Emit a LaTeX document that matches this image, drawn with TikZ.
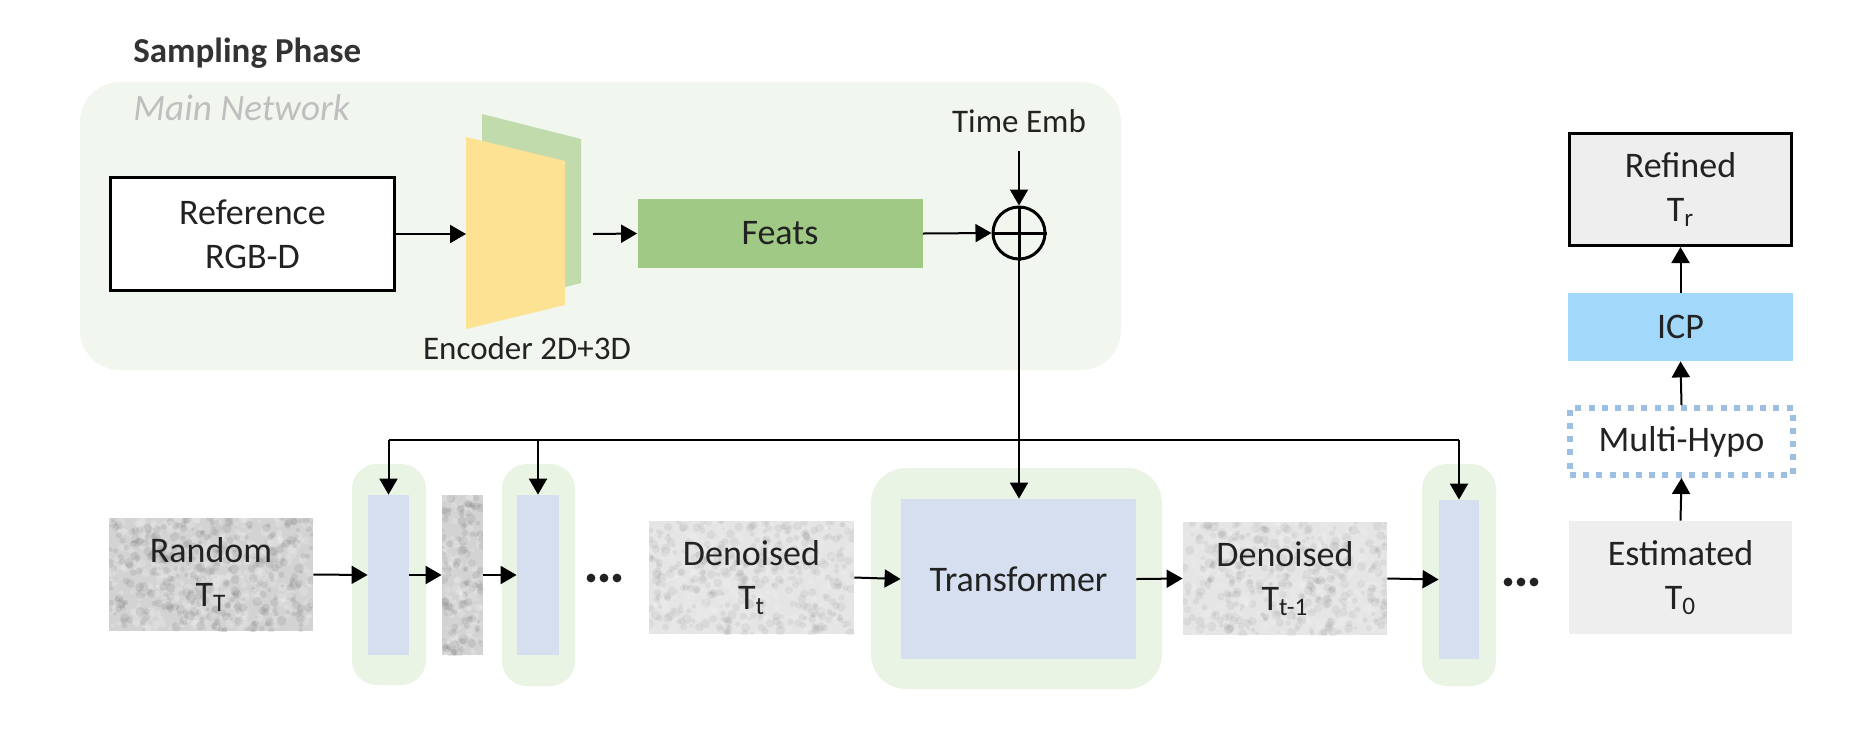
\documentclass[tikz,border=0pt]{standalone}
\usepackage{fontspec}
\setmainfont{Carlito}
\usetikzlibrary{arrows.meta,calc}
\definecolor{panelc}{HTML}{F1F7EE}
\definecolor{blkg}{HTML}{EAF4E4}
\definecolor{innerb}{HTML}{D5DFEF}
\definecolor{featsc}{HTML}{A0C986}
\definecolor{yell}{HTML}{FDE294}
\definecolor{encg}{HTML}{C1DBAC}
\definecolor{icpc}{HTML}{A2D8FA}
\definecolor{grayc}{HTML}{EEEEEE}
\definecolor{mhc}{HTML}{9DBFE2}
\definecolor{txtc}{HTML}{222222}
\definecolor{mainnet}{HTML}{BFBFBF}
\definecolor{sampc}{HTML}{333333}
\definecolor{noiseA}{HTML}{D3D3D3}
\definecolor{noiseB}{HTML}{E5E5E5}
\pgfmathsetseed{7}
\begin{document}
\begin{tikzpicture}[x=0.5pt,y=-0.5pt,
  txt/.style={text=txtc, font=\fontsize{18pt}{22pt}\selectfont, align=center, inner sep=0pt},
  small/.style={text=txtc, font=\fontsize{16.5pt}{20pt}\selectfont, inner sep=0pt},
  arr/.style={line width=1pt, -{Triangle[length=8pt,width=9pt]}},
  thickbox/.style={txt, draw=black, line width=1.5pt},
  greenblk/.style={fill=blkg, rounded corners=12.5pt, inner sep=0pt},
  innerblk/.style={fill=innerb, inner sep=0pt},
  noisy/.style n args={3}{txt, fill=#1, path picture={
    \foreach \k in {1,...,#2}{
      \pgfmathsetmacro\u{rnd}
      \pgfmathsetmacro\v{rnd}
      \pgfmathsetmacro\r{0.9+1.6*rnd}
      \pgfmathtruncatemacro\c{rnd>0.5 ? 55 : 0}
      \fill[black!\c!white, opacity=#3] let \p1=(path picture bounding box.south west), \p2=(path picture bounding box.north east) in ({\x1+\u*(\x2-\x1)},{\y1+\v*(\y2-\y1)}) circle[radius=\r pt];
    }}}
]
\useasboundingbox (0,0) rectangle (1854,741);
\fill[white] (0,0) rectangle (1854,741);

% titles
\node[anchor=base west, inner sep=0pt, text=sampc, font=\fontsize{17.5pt}{20pt}\selectfont\bfseries] (title) at (133,62) {Sampling Phase};

% main network panel
\fill[panelc, rounded corners=20pt] (80,82) rectangle (1121,370);
\node[anchor=base west, inner sep=0pt, text=mainnet, font=\fontsize{18.6pt}{22pt}\selectfont\itshape] (mainnet) at (133,120) {Main Network};

\node[thickbox, fill=white, minimum width=142pt, minimum height=56.5pt] (ref) at (252.5,234) {Reference\\RGB-D};

% encoder
\fill[encg] (482,114) -- (581,139) -- (581,283) -- (482,308) -- cycle;
\fill[yell] (466,137) -- (565,161) -- (565,305) -- (466,329) -- cycle;
\coordinate (encin) at (466,234);
\coordinate (encout) at (593,234);
\node[small, anchor=base] (enclab) at (527,359) {Encoder 2D+3D};

\node[txt, fill=featsc, minimum width=142.5pt, minimum height=34.5pt] (feats) at (780,233.5) {Feats};

\node[circle, draw=black, line width=1.5pt, minimum size=26pt, inner sep=0pt] (oplus) at (1019,233) {};
\draw[line width=1.5pt] (oplus.north) -- (oplus.south) (oplus.west) -- (oplus.east);
\node[small, anchor=base] (temb) at (1019,132) {Time Emb};
\coordinate (tembs) at (1019,151);

\draw[arr] (ref.east) -- (encin);
\draw[arr] (encout) -- (feats.west);
\draw[arr] (feats.east) -- (oplus.west);
\draw[arr] (tembs) -- (oplus.north);

% denoising chain
\node[noisy={noiseA}{700}{0.16}, minimum width=102pt, minimum height=56.5pt] (random) at (211,574.5) {Random\\T\textsubscript{T}};
\node[greenblk, minimum width=37pt, minimum height=110.5pt] (b1g) at (389,574.5) {};
\node[innerblk, minimum width=20.5pt, minimum height=80pt] (b1) at (388.5,575) {};
\node[noisy={noiseA}{220}{0.16}, minimum width=20.5pt, minimum height=80pt] (strip) at (462.5,575) {};
\node[greenblk, minimum width=36.5pt, minimum height=111pt] (b2g) at (538.5,575) {};
\node[innerblk, minimum width=21pt, minimum height=80pt] (b2) at (538,575) {};
\node[noisy={noiseB}{700}{0.1}, minimum width=102.5pt, minimum height=56.5pt] (dent) at (751.5,577.5) {Denoised\\T\textsubscript{t}};
\node[greenblk, rounded corners=17.5pt, minimum width=145.5pt, minimum height=110.5pt] (tg) at (1016.5,578.5) {};
\node[innerblk, txt, minimum width=117.5pt, minimum height=80pt] (trans) at (1018.5,579) {Transformer};
\node[noisy={noiseB}{700}{0.1}, minimum width=102pt, minimum height=56.5pt] (dent1) at (1285,578.5) {Denoised\\T\textsubscript{t-1}};
\node[greenblk, minimum width=37pt, minimum height=111pt] (b3g) at (1459,575) {};
\node[innerblk, minimum width=20pt, minimum height=79.5pt] (b3) at (1459,579.5) {};

\foreach \dx in {591,604,617} \fill[txtc] (\dx,578) circle[radius=2.2pt];
\foreach \dx in {1508,1521,1534} \fill[txtc] (\dx,582) circle[radius=2.2pt];

\draw[arr] (random.east) -- (b1.west);
\draw[arr] (b1.east) -- (strip.west);
\draw[arr] (strip.east) -- (b2.west);
\draw[arr] (dent.east) -- (trans.west);
\draw[arr] (trans.east) -- (dent1.west);
\draw[arr] (dent1.east) -- (b3.west);

% bus from time embedding
\coordinate (bus) at (0,440);
\draw[arr] (oplus.south) -- (oplus.south |- trans.north);
\draw[line width=1pt] (b1.north |- bus) -- (b3.north |- bus);
\foreach \n in {b1,b2,b3} \draw[arr] (\n.north |- bus) -- (\n.north);

% right column
\node[txt, fill=grayc, minimum width=111.5pt, minimum height=56.5pt] (est) at (1680.5,577.5) {Estimated\\T\textsubscript{0}};
\node[txt, draw=mhc, line width=3pt, dash pattern=on 3pt off 3.6pt, minimum width=111.5pt, minimum height=33.5pt] (mh) at (1681.5,441.5) {Multi-Hypo};
\node[txt, fill=icpc, minimum width=112.5pt, minimum height=34pt] (icp) at (1680.5,327) {ICP};
\node[thickbox, fill=grayc, minimum width=111pt, minimum height=56pt] (refined) at (1680.5,189.5) {Refined\\T\textsubscript{r}};

\draw[arr] (est.north) -- (mh.south);
\draw[arr] (mh.north) -- (icp.south);
\draw[arr] (icp.north) -- (refined.south);
\end{tikzpicture}
\end{document}
